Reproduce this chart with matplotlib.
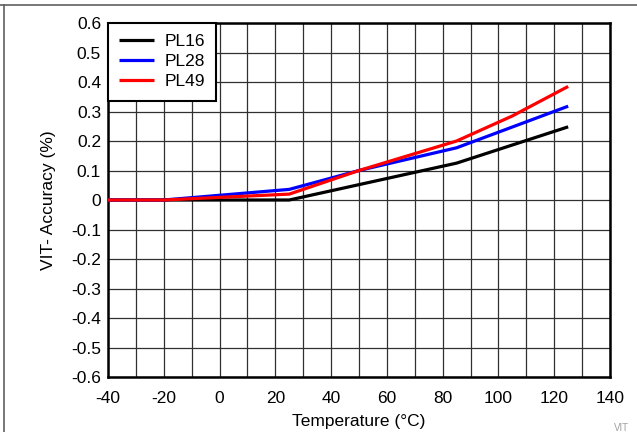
import matplotlib
matplotlib.use("Agg")
import matplotlib.pyplot as plt
from matplotlib.lines import Line2D
from matplotlib.ticker import MultipleLocator

plt.rcParams['font.family'] = ['Liberation Sans', 'DejaVu Sans']
plt.rcParams['axes.unicode_minus'] = False

temp_pl16 = [-40, -20, 25, 85, 125]
acc_pl16 = [0.0, 0.0, 0.0, 0.125, 0.248]
temp_pl28 = [-40, -20, 25, 50, 85, 125]
acc_pl28 = [0.0, 0.0, 0.036, 0.1, 0.177, 0.318]
temp_pl49 = [-40, -20, 25, 50, 85, 105, 125]
acc_pl49 = [0.0, 0.0, 0.02, 0.1, 0.2, 0.285, 0.385]

series = [("PL16", temp_pl16, acc_pl16, "#000000"),
          ("PL28", temp_pl28, acc_pl28, "#0000ff"),
          ("PL49", temp_pl49, acc_pl49, "#ff0000")]

x_ticks = [-40, -20, 0, 20, 40, 60, 80, 100, 120, 140]
y_ticks = [0.6, 0.5, 0.4, 0.3, 0.2, 0.1, 0, -0.1, -0.2, -0.3, -0.4, -0.5, -0.6]
y_tick_labels = ["0.6", "0.5", "0.4", "0.3", "0.2", "0.1", "0", "-0.1", "-0.2", "-0.3", "-0.4", "-0.5", "-0.6"]

FS = 12.5

fig = plt.figure(figsize=(6.37, 4.32), dpi=100)
ax = fig.add_axes([108/637, 1-377/432, (610-108)/637, (377-23)/432])

for name, x, y, c in series:
    ax.plot(x, y, color=c, lw=2.3, label=name, solid_capstyle='butt', zorder=3)

ax.set_xlim(-40, 140)
ax.set_ylim(-0.6, 0.6)
ax.set_xticks(x_ticks)
ax.set_xticklabels([str(t) for t in x_ticks])
ax.xaxis.set_minor_locator(MultipleLocator(10))
ax.set_yticks(y_ticks)
ax.set_yticklabels(y_tick_labels)
ax.grid(True, which='both', color='#303030', lw=0.9)
ax.tick_params(which='both', length=0, labelsize=FS)
ax.tick_params(axis='x', pad=10)
ax.tick_params(axis='y', pad=5)
for s in ax.spines.values():
    s.set_linewidth(1.8)
    s.set_color('black')
ax.set_xlabel("Temperature (°C)", fontsize=FS, labelpad=6)
ax.set_ylabel("VIT- Accuracy (%)", fontsize=FS, labelpad=11)

leg = ax.legend(loc='upper left', fontsize=FS, frameon=True, fancybox=False,
                borderaxespad=0, handlelength=2.0, handletextpad=0.6,
                labelspacing=0.28, borderpad=0.65)
leg.get_frame().set_edgecolor('black')
leg.get_frame().set_linewidth(1.5)
leg.get_frame().set_alpha(1)

fig.add_artist(Line2D([0, 1], [1-5/432, 1-5/432], color='#606060', lw=1.2, transform=fig.transFigure))
fig.add_artist(Line2D([4/637, 4/637], [0, 1-5/432], color='#606060', lw=1.2, transform=fig.transFigure))
fig.text(614/637, 1-428/432, "VIT", fontsize=7, color='#a0a0a0', ha='left', va='center')

fig.savefig("out.png", dpi=100)
